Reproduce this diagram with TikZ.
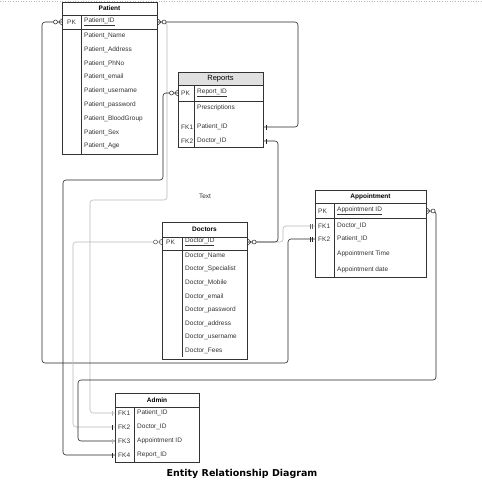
\documentclass[tikz,border=0pt]{standalone}
\usepackage{fontspec}
\setmainfont{Liberation Sans}
\newfontfamily\titlefont{DejaVu Sans}
\usetikzlibrary{decorations.markings, positioning}
\definecolor{linegray}{RGB}{185,185,185}
\definecolor{hdrgray}{RGB}{224,224,224}
\definecolor{txtgray}{RGB}{50,50,50}

\begin{document}
\begin{tikzpicture}[x=1pt, y=-1pt,
  tbl/.style={draw=black!80, line width=0.6pt, anchor=north west, inner sep=0pt},
  sepl/.style={draw=black!80, line width=0.6pt},
  hd/.style={inner sep=0pt, font=\fontsize{6.5}{7}\selectfont\bfseries},
  attr/.style={anchor=west, inner sep=0pt, text=txtgray, font=\fontsize{6.5}{7}\selectfont},
  keyc/.style={attr},
  rel/.style={draw=black!85, line width=0.6pt, rounded corners=3pt},
  relg/.style={rel, draw=linegray},
  manyS/.style={postaction={decorate, decoration={markings, mark=at position 4.5pt with
    {\draw[#1, line width=0.5pt] (-4.5pt,3pt) -- (0,0) -- (-4.5pt,-3pt);
     \draw[#1, fill=white, line width=0.5pt] (2pt,0) circle (2pt);}}}},
  manyS/.default={black!85},
  manyE/.style={postaction={decorate, decoration={markings, mark=at position -4.5pt with
    {\draw[#1, line width=0.5pt] (4.5pt,3pt) -- (0,0) -- (4.5pt,-3pt);
     \draw[#1, fill=white, line width=0.5pt] (-2pt,0) circle (2pt);}}}},
  manyE/.default={black!85},
  oneS/.style={postaction={decorate, decoration={markings, mark=at position 3pt with
    {\draw[#1, line width=0.5pt] (0,-2.5pt) -- (0,2.5pt);}}}},
  oneS/.default={black!85},
  oneE/.style={postaction={decorate, decoration={markings, mark=at position -3pt with
    {\draw[#1, line width=0.5pt] (0,-2.5pt) -- (0,2.5pt);}}}},
  oneE/.default={black!85},
  twoE/.style={postaction={decorate, decoration={markings,
    mark=at position -3pt with {\draw[#1, line width=0.5pt] (0,-2.5pt) -- (0,2.5pt);},
    mark=at position -5pt with {\draw[#1, line width=0.5pt] (0,-2.5pt) -- (0,2.5pt);}}}},
  twoE/.default={black!85}
]
\useasboundingbox (0,0) rectangle (482,485);
\draw[linegray, dotted, line width=0.6pt] (0,1.2) -- (482,1.2);

% Patient
\node[tbl, minimum width=95pt, minimum height=152pt] (patient) at (62,2) {};
\node[hd] (pat-t) at (109.5,8.5) {Patient};
\draw[sepl] (62,15) -- (157,15) (62,29) -- (157,29) (81,15) -- (81,154);
\node[keyc] (pat-pk) at (67,22) {PK};
\node[attr] (pat-id) at (84,22) {\underline{Patient\_ID}};
\foreach \t [count=\i] in {Patient\_Name, Patient\_Address, Patient\_PhNo,
  Patient\_email, Patient\_username, Patient\_password, Patient\_BloodGroup,
  Patient\_Sex, Patient\_Age}
  \node[attr] (pat\i) at (84,{22+13.8*\i}) {\t};

% Reports
\fill[hdrgray] (178,72) rectangle (263,85);
\node[tbl, minimum width=85pt, minimum height=75pt] (reports) at (178,72) {};
\node[inner sep=0pt, font=\fontsize{7.5}{8}\selectfont] (rep-t) at (220.5,78.5) {Reports};
\draw[sepl] (178,85) -- (263,85) (178,101) -- (263,101) (194,85) -- (194,147);
\node[keyc] (rep-pk) at (181,93) {PK};
\node[attr] (rep-id) at (197,93) {\underline{Report\_ID}};
\node[attr] (rep-pr) at (197,108) {Prescriptions};
\node[keyc] (rep-k1) at (181,127) {FK1};
\node[attr] (rep-fk1) at (197,127) {Patient\_ID};
\node[keyc] (rep-k2) at (181,141) {FK2};
\node[attr] (rep-fk2) at (197,141) {Doctor\_ID};

\node[attr, anchor=center] (txt) at (205,196) {Text};

% Doctors
\node[tbl, minimum width=85pt, minimum height=137pt] (doctors) at (162,222) {};
\node[hd] (doc-t) at (204.5,229.5) {Doctors};
\draw[sepl] (162,237) -- (247,237) (162,250) -- (247,250) (182,237) -- (182,357);
\node[keyc] (doc-pk) at (166,242) {PK};
\node[attr] (doc-id) at (185,242) {\underline{Doctor\_ID}};
\foreach \t [count=\i] in {Doctor\_Name, Doctor\_Specialist, Doctor\_Mobile,
  Doctor\_email, Doctor\_password, Doctor\_address, Doctor\_username, Doctor\_Fees}
  \node[attr] (doc\i) at (185,{242+13.6*\i}) {\t};

% Appointment
\node[tbl, minimum width=111pt, minimum height=87pt] (appt) at (315,190) {};
\node[hd] (app-t) at (370.5,196.5) {Appointment};
\draw[sepl] (315,203) -- (426,203) (315,218) -- (426,218) (334,203) -- (334,277);
\node[keyc] (app-pk) at (318,211) {PK};
\node[attr] (app-id) at (337,211) {\underline{Appointment ID}};
\node[keyc] (app-k1) at (318,226) {FK1};
\node[attr] (app-doc) at (337,226) {Doctor\_ID};
\node[keyc] (app-k2) at (318,239) {FK2};
\node[attr] (app-pat) at (337,239) {Patient\_ID};
\node[attr] (app-tm) at (337,254) {Appointment Time};
\node[attr] (app-dt) at (337,270) {Appointment date};

% Admin
\node[tbl, minimum width=84pt, minimum height=69pt] (admin) at (115,393) {};
\node[hd] (adm-t) at (157,400) {Admin};
\draw[sepl] (115,407) -- (199,407) (134,407) -- (134,462);
\foreach \k/\t [count=\i] in {FK1/Patient\_ID, FK2/Doctor\_ID,
  FK3/Appointment ID, FK4/Report\_ID} {
  \node[keyc] (adm-k\i) at (118,{399+14*\i}) {\k};
  \node[attr] (adm\i) at (137,{399+14*\i}) {\t};
}

% relations
\draw[relg, oneE=linegray] (patient.east |- pat-id) -- (167,22) -- (167,200)
  -- (90,200) -- (90,413) -- (admin.west |- adm1);
\draw[rel, manyS, oneE] (patient.east |- pat-id) -- (298,22) -- (298,127)
  -- (reports.east |- rep-fk1);
\draw[rel, manyS, twoE] (patient.west |- pat-id) -- (42,22) -- (42,363)
  -- (288,363) -- (288,239) -- (appt.west |- app-pat);
\draw[rel, manyS, oneE] (reports.west |- rep-id) -- (163,93) -- (163,180)
  -- (63,180) -- (63,455) -- (admin.west |- adm4);
\draw[relg, twoE=black!60] (doctors.east |- doc-id) -- (283,242) -- (283,226)
  -- (appt.west |- app-doc);
\draw[rel, oneS, manyE] (reports.east |- rep-fk2) -- (278,141) -- (278,242)
  -- (doctors.east |- doc-id);
\draw[relg, manyS=black!70, oneE] (doctors.west |- doc-id) -- (73,242) -- (73,427)
  -- (admin.west |- adm2);
\draw[rel, manyS, oneE=linegray] (appt.east |- app-id) -- (436,211) -- (436,380)
  -- (78,380) -- (78,441) -- (admin.west |- adm3);

\node[font=\titlefont\bfseries\fontsize{9.5}{11}\selectfont] (title) at (242,474)
  {Entity Relationship Diagram};
\end{tikzpicture}
\end{document}
